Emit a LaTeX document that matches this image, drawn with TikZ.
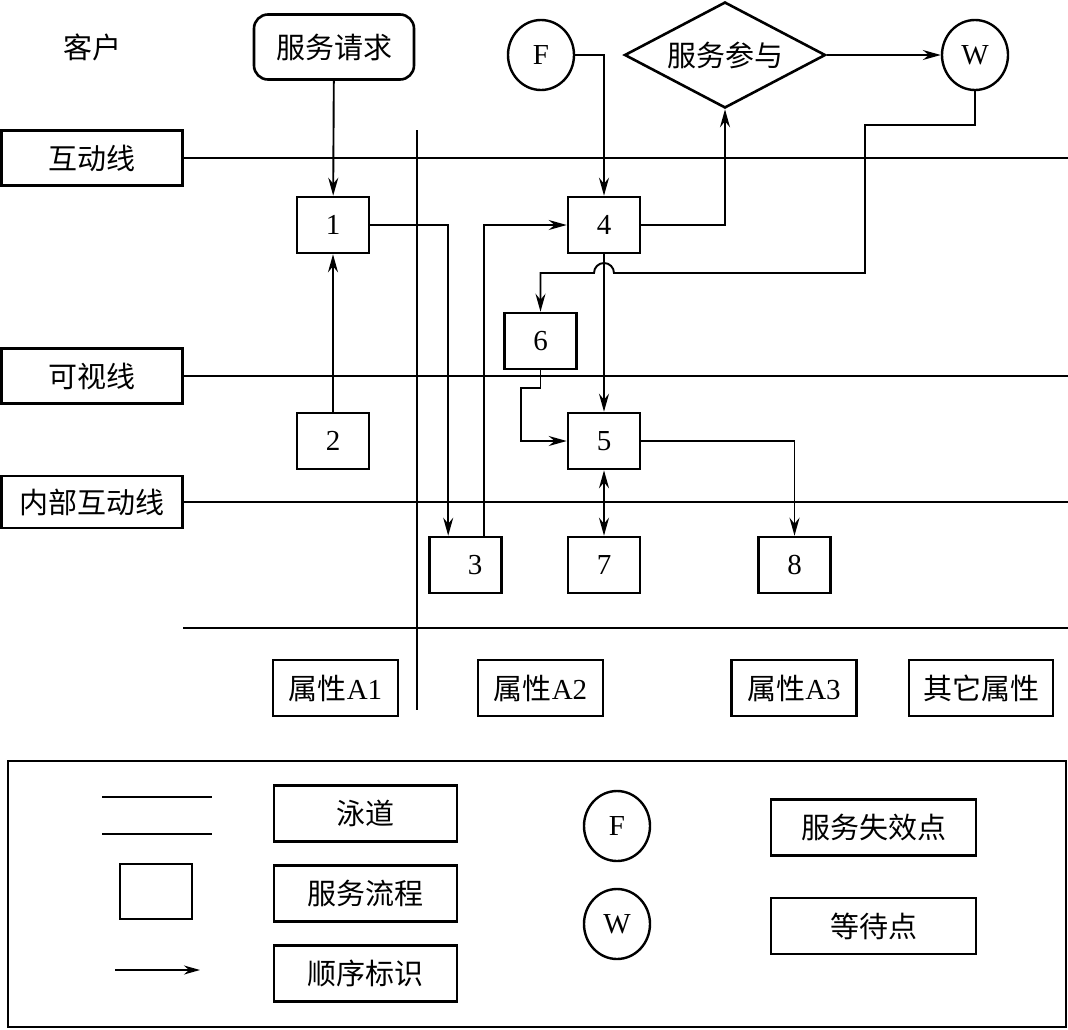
\documentclass[tikz,border=0pt]{standalone}
\usepackage{fontspec}
\setmainfont{Liberation Serif}
\newfontfamily\cjk{Noto Sans CJK SC}
\usetikzlibrary{arrows.meta,shapes.geometric}

\begin{document}
\begin{tikzpicture}[x=1pt,y=-1pt,
  font=\fontsize{29}{31}\selectfont,
  box/.style={draw, line width=2.6pt, minimum width=72pt, minimum height=56pt, inner sep=0pt},
  lanebox/.style={draw, line width=2.6pt, minimum width=181pt, minimum height=55pt, inner sep=0pt, font=\fontsize{29}{31}\selectfont\cjk},
  attr/.style={box, minimum width=125pt},
  keybox/.style={box, minimum width=183pt, font=\fontsize{29}{31}\selectfont\cjk},
  ptcirc/.style={draw, ellipse, line width=2.4pt, minimum width=66pt, minimum height=70pt, inner sep=0pt},
  lane/.style={line width=2pt},
  arr/.style={line width=1.9pt, -{Stealth[length=18pt,width=10pt,inset=6pt]}},
  dbl/.style={line width=1.9pt, {Stealth[length=18pt,width=10pt,inset=6pt]}-{Stealth[length=18pt,width=10pt,inset=6pt]}}]
\useasboundingbox (0,0) rectangle (1068,1029);

% customer row
\node[font=\fontsize{29}{31}\selectfont\cjk] (kehu) at (92,47) {客户};
\node[box, rounded corners=14pt, minimum width=160pt, minimum height=65pt, font=\fontsize{29}{31}\selectfont\cjk] (req) at (334,47) {服务请求};
\node[ptcirc] (F) at (541,55) {F};
\node[draw, diamond, aspect=1.9, line width=2.6pt, minimum width=201pt, minimum height=106pt, inner sep=0pt, font=\fontsize{29}{31}\selectfont\cjk] (part) at (725,55) {服务参与};
\node[ptcirc] (W) at (975,55) {W};

% lanes
\node[lanebox] (lb1) at (92,158) {互动线};
\node[lanebox] (lb2) at (92,376) {可视线};
\node[lanebox, minimum height=52pt] (lb3) at (92,502) {内部互动线};
\coordinate (e1) at (1068,158);
\coordinate (e2) at (1068,376);
\coordinate (e3) at (1068,502);
\draw[lane] (lb1.east) -- (e1);
\draw[lane] (lb2.east) -- (e2);
\draw[lane] (lb3.east) -- (e3);
\draw[lane] (183,628) -- (1068,628);
\draw[lane] (417,130) -- (417,710);

% process steps
\node[box] (n1) at (333,225) {1};
\node[box] (n2) at (333,441) {2};
\node[box] (n3) at (465.5,565) {\hspace*{19pt}3};
\node[box] (n4) at (604,225) {4};
\node[box] (n5) at (604,441) {5};
\node[box] (n6) at (540.5,341) {6};
\node[box] (n7) at (604,565) {7};
\node[box] (n8) at (794.5,565) {8};

% flow
\draw[arr] (req) -- (n1);
\draw[arr] (n2) -- (n1);
\draw[arr] (n1.east) -| ([xshift=20pt]n3.north west);
\draw[arr] ([xshift=-19pt]n3.north east) |- (n4.west);
\draw[arr] (F.east) -| (n4.north);
\draw[arr] (n4.east) -| (part.south);
\draw[arr] (part.east) -- (W.west);
\draw[arr] (W.south) |- (865,125) |- (614,273) arc[start angle=0, end angle=-180, radius=10] -| (n6.north);
\draw[arr] (n4) -- (n5);
\draw[arr] (n6.south) -- (540.5,388) -- (521,388) |- (n5.west);
\draw[arr] (n5.east) -| (n8.north);
\draw[dbl] (n5) -- (n7);

% attributes
\node[attr] (a1) at (335.5,688) {{\cjk 属性}A1};
\node[attr] (a2) at (540.5,688) {{\cjk 属性}A2};
\node[attr] (a3) at (794,688) {{\cjk 属性}A3};
\node[attr, minimum width=144pt, font=\fontsize{29}{31}\selectfont\cjk] (a4) at (981,688) {其它属性};

% legend
\draw[line width=2.6pt] (8,761) rectangle (1066,1027);
\draw[lane] (102,797) -- (212,797);
\draw[lane] (102,834) -- (212,834);
\node[box, minimum height=55pt] (kbox) at (156,891.5) {};
\coordinate (ka) at (115,970);
\coordinate (kb) at (200,970);
\draw[line width=1.9pt, -{Stealth[length=16pt,width=9pt,inset=5pt]}] (ka) -- (kb);
\node[keybox] (k1) at (365.5,813.5) {泳道};
\node[keybox] (k2) at (365.5,893.5) {服务流程};
\node[keybox] (k3) at (365.5,973.5) {顺序标识};
\node[ptcirc] (kF) at (617,826) {F};
\node[ptcirc] (kW) at (617,924) {W};
\node[keybox, minimum width=205pt] (k4) at (873.5,827.5) {服务失效点};
\node[keybox, minimum width=205pt] (k5) at (873.5,926) {等待点};
\end{tikzpicture}
\end{document}
